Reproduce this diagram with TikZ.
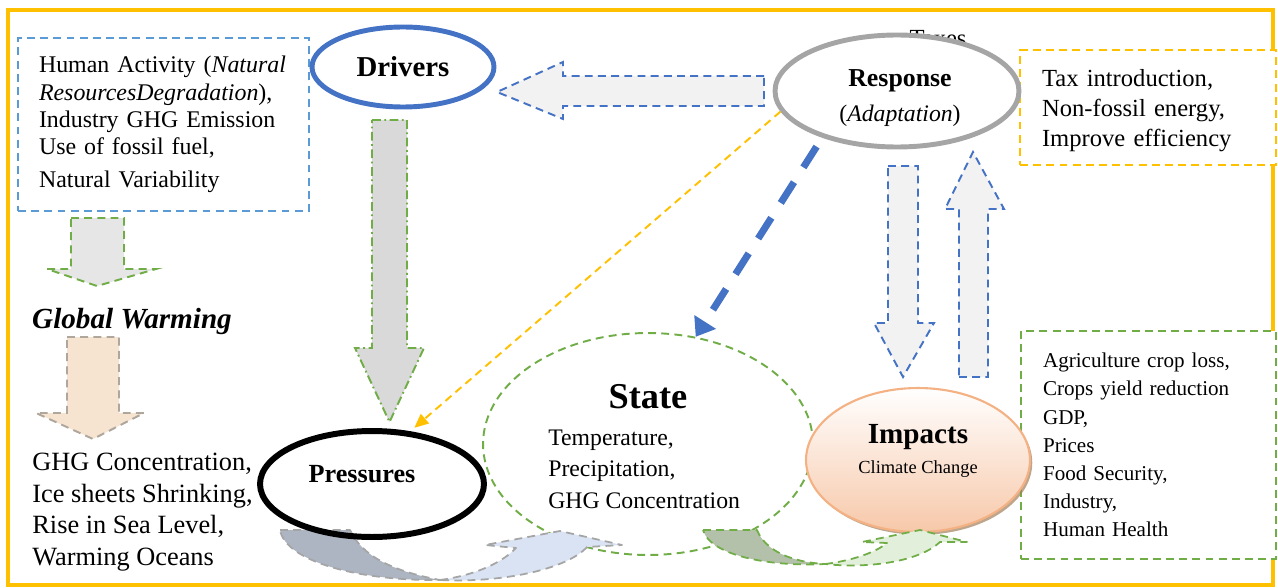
\documentclass[tikz,border=0pt]{standalone}
\usepackage{fontspec}
\setmainfont{Liberation Serif}
\usetikzlibrary{arrows.meta,shapes.geometric,shadows}
\definecolor{amber}{HTML}{FFC000}
\definecolor{royal}{HTML}{4472C4}
\definecolor{skyline}{HTML}{5B9BD5}
\definecolor{leaf}{HTML}{70AD47}
\definecolor{ringgray}{HTML}{A5A5A5}
\definecolor{mist}{HTML}{F2F2F2}
\definecolor{shaftgray}{HTML}{D9D9D9}
\definecolor{pebble}{HTML}{E7E6E6}
\definecolor{sand}{HTML}{F6E4D1}
\definecolor{taupe}{HTML}{AFA69C}
\definecolor{peach}{HTML}{F7C8A9}
\definecolor{apricot}{HTML}{F4B183}
\definecolor{slate}{HTML}{ADB5C3}
\definecolor{paleblue}{HTML}{DAE3F3}
\definecolor{sage}{HTML}{B3C1AA}
\definecolor{palegreen}{HTML}{E2EFDA}

\begin{document}
\begin{tikzpicture}[x=0.02cm, y=-0.02cm, >=Stealth,
  hatch/.style={line width=1.1pt, dash pattern=on 4.5pt off 3pt},
  infobox/.style={hatch, fill=white, inner xsep=0.42cm, inner ysep=0pt, align=left},
  block/.style={hatch, draw=royal, fill=mist, line join=miter},
  stage/.style={ellipse, inner sep=0pt, align=center},
  swirl/.style={hatch, line width=1pt, line join=round}]
  \useasboundingbox (0,0) rectangle (1278,588);
  % ---- outer frame ----
  \draw[amber, line width=2.4pt] (8,10) rectangle (1273,585);
  % ---- text boxes ----
  \node[infobox, draw=skyline, minimum width=5.82cm, minimum height=3.46cm, text width=4.98cm,
    font=\fontsize{13.6}{15.6}\selectfont] (causes) at (163.5,124.5)
    {Human Activity (\textit{Natural}\\ \textit{ResourcesDegradation}),\\ Industry GHG Emission\\ Use of fossil fuel,\\[3pt] Natural Variability};
  \node[infobox, draw=amber, minimum width=5.12cm, minimum height=2.3cm, text width=4.24cm,
    font=\fontsize{14}{17}\selectfont] (policy) at (1148,107.5)
    {\rule{0pt}{13pt}Tax introduction,\\ Non-fossil energy,\\ Improve efficiency};
  \node[infobox, draw=leaf, minimum width=5.1cm, minimum height=4.56cm, text width=4.22cm,
    font=\fontsize{12}{16}\selectfont] (losses) at (1148.5,445)
    {Agriculture crop loss,\\ Crops yield reduction\\ GDP,\\ Prices\\ Food Security,\\ Industry,\\ Human Health};
  % ---- block arrows ----
  \draw[block] (764,76) -- (563,76) -- (563,62) -- (497,92) -- (563,119) -- (563,106) -- (764,106) -- cycle;
  \draw[block] (888,166) -- (918,166) -- (918,323) -- (934,323) -- (903,377) -- (874,323) -- (888,323) -- cycle;
  \draw[block] (959,377) -- (988,377) -- (988,209) -- (1004,209) -- (973,152) -- (945,209) -- (959,209) -- cycle;
  \draw[hatch, draw=leaf, fill=shaftgray, dash pattern=on 5pt off 2pt on 1pt off 2pt]
    (372,120) -- (407,120) -- (407,348) -- (424,348) -- (389.5,422) -- (355,348) -- (372,348) -- cycle;
  \draw[hatch, draw=leaf, fill=pebble] (71,218) -- (124,218) -- (124,269) -- (156,269) -- (97,286) -- (47,269) -- (71,269) -- cycle;
  \draw[hatch, draw=taupe, fill=sand] (67,337) -- (119,337) -- (119,413) -- (144,413) -- (93,439) -- (36,413) -- (67,413) -- cycle;
  % ---- response / drivers ----
  \node[font=\fontsize{14}{17}\selectfont, anchor=base] (taxes) at (938,47) {Taxes};
  \node[stage, draw=ringgray, line width=2.8pt, fill=white, minimum width=4.88cm, minimum height=2.24cm] (response) at (897,91) {};
  \node[align=center, font=\fontsize{13.5}{19.8}\selectfont] (responsetext) at (900,98)
    {\textbf{\fontsize{14.7}{19.8}\selectfont Response}\\ (\textit{Adaptation})};
  \node[stage, draw=royal, line width=2.8pt, fill=white, minimum width=3.64cm, minimum height=1.6cm,
    font=\bfseries\fontsize{16.4}{20}\selectfont] (drivers) at (403,67) {Drivers};
  % ---- state ----
  \node[stage, draw=leaf, hatch, minimum width=6.6cm, minimum height=4.44cm] (state) at (648,444) {};
  \node[font=\bfseries\fontsize{20.7}{24}\selectfont] (statetitle) at (648,397) {State};
  \node[anchor=west, align=left, inner sep=0pt, font=\fontsize{13.5}{17.9}\selectfont] (statelist) at (548,469)
    {Temperature,\\ Precipitation,\\ GHG Concentration};
  % ---- impacts ----
  \node[stage, draw=apricot, line width=1.2pt, top color=white, bottom color=peach,
    minimum width=4.48cm, minimum height=2.88cm,
    drop shadow={shadow xshift=1.3pt, shadow yshift=-1.6pt, fill=brown!55!gray, opacity=0.7}] (impacts) at (918,460) {};
  \node[font=\bfseries\fontsize{16.6}{20}\selectfont] (impactstitle) at (918,437) {Impacts};
  \node[font=\fontsize{10.5}{13}\selectfont] (impactsnote) at (918,469) {Climate Change};
  % ---- curved feedback arrows ----
  \draw[swirl, draw=ringgray, fill=slate] (280,530) -- (350,530) .. controls (362,556) and (392,571) .. (440,580)
    .. controls (360,581) and (286,562) .. (280,530) -- cycle;
  \draw[swirl, draw=ringgray, fill=paleblue] (440,580) .. controls (470,576) and (500,565) .. (516,548)
    -- (485,545) -- (560,531) -- (622,545) -- (587,547) .. controls (566,570) and (500,583) .. (440,580) -- cycle;
  \draw[swirl, draw=leaf, fill=sage] (703,530) -- (757,530) .. controls (765,550) and (790,562) .. (825,564)
    .. controls (768,567) and (710,555) .. (703,530) -- cycle;
  \draw[swirl, draw=leaf, fill=palegreen] (825,564) .. controls (850,561) and (875,553) .. (887,543)
    -- (862,542) -- (920,530) -- (967,542) -- (940,542) .. controls (920,561) and (870,569) .. (825,564) -- cycle;
  % ---- pressures ----
  \node[stage, draw=black, line width=3.4pt, minimum width=4.48cm, minimum height=2.12cm] (pressures) at (372,484) {};
  \node[font=\bfseries\fontsize{14.9}{18}\selectfont] (pressureslabel) at (362,474) {Pressures};
  % ---- connectors ----
  \draw[amber, line width=1.1pt, dash pattern=on 4.5pt off 3pt, shorten >=3pt,
    -{Triangle[length=8pt,width=7pt]}] (response.190) -- (pressures.54);
  \draw[royal, line width=4pt, dash pattern=on 14pt off 10pt, shorten <=6pt,
    -{Triangle[length=10pt,width=14pt]}] (response.212) -- (state.66);
  % ---- global warming chain ----
  \node[font=\bfseries\itshape\fontsize{16.6}{20}\selectfont] (warming) at (132,321) {Global Warming};
  \node[anchor=west, align=left, inner sep=0pt, font=\fontsize{15}{18}\selectfont] (effects) at (32,512)
    {GHG Concentration,\\ Ice sheets Shrinking,\\ Rise in Sea Level,\\ Warming Oceans};
\end{tikzpicture}
\end{document}
